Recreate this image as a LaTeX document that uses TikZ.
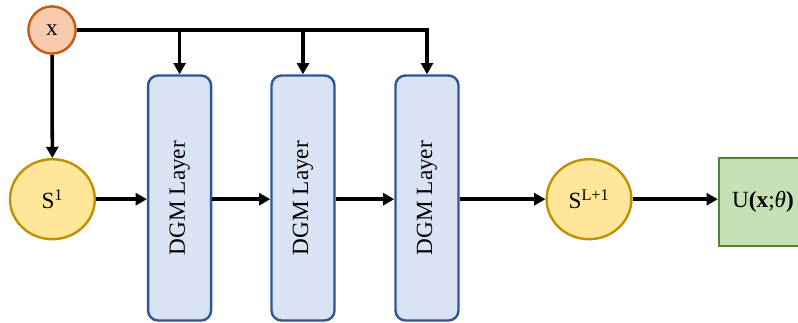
\documentclass[tikz,border=0pt]{standalone}
\usepackage{fontspec}
\setmainfont{Liberation Serif}
\usetikzlibrary{arrows.meta,shapes.geometric}

\definecolor{inpfill}{HTML}{F8CBAD}
\definecolor{inpdraw}{HTML}{C55A11}
\definecolor{stfill}{HTML}{FFE699}
\definecolor{stdraw}{HTML}{BF9000}
\definecolor{dgmfill}{HTML}{DAE3F3}
\definecolor{dgmdraw}{HTML}{2F5597}
\definecolor{outfill}{HTML}{C5E0B4}
\definecolor{outdraw}{HTML}{548235}

\begin{document}
\begin{tikzpicture}[>={Triangle[length=8pt,width=8.5pt]},
    font=\fontsize{16.5pt}{20pt}\selectfont,
    inp/.style={circle,draw=inpdraw,fill=inpfill,line width=1.7pt,minimum size=1.18cm,inner sep=0pt},
    state/.style={ellipse,draw=stdraw,fill=stfill,line width=1.7pt,minimum width=2.12cm,minimum height=2cm,inner sep=0pt},
    dgm/.style={rectangle,rounded corners=0.25cm,draw=dgmdraw,fill=dgmfill,line width=1.7pt,minimum width=1.575cm,minimum height=6.125cm,inner sep=0pt},
    outbox/.style={rectangle,draw=outdraw,fill=outfill,line width=1.7pt,minimum width=2.2cm,minimum height=2.2cm,inner sep=0pt},
    conn/.style={->,line width=2.5pt}]
                \useasboundingbox (0,0) rectangle (19.95,8.05);

                % input, states and layers
                \node[inp] (x) at (1.3,7.3) {x};
                \node[state] (s1) at (1.31,3.07) {S\textsuperscript{1}};
                \node[dgm] (dgm1) at (4.49,3.1) {\rotatebox{90}{DGM Layer}};
                \node[dgm] (dgm2) at (7.575,3.1) {\rotatebox{90}{DGM Layer}};
                \node[dgm] (dgm3) at (10.675,3.1) {\rotatebox{90}{DGM Layer}};
                \node[state] (sl) at (14.725,3.07) {S\textsuperscript{L+1}};
                \node[outbox] (u) at (19.075,3.0) {U\textbf{(x};\textit{θ}\textbf{)}};

                % x feeds every layer
                \draw[conn] (x) -- (s1);
                \draw[conn] (x) -| (dgm3.north);
                \draw[conn] (dgm1.north |- x) -- (dgm1.north);
                \draw[conn] (dgm2.north |- x) -- (dgm2.north);

                % forward pass
                \draw[conn] (s1) -- (s1 -| dgm1.west);
                \draw[conn] (s1 -| dgm1.east) -- (s1 -| dgm2.west);
                \draw[conn] (s1 -| dgm2.east) -- (s1 -| dgm3.west);
                \draw[conn] (s1 -| dgm3.east) -- (sl);
                \draw[conn] (sl) -- (sl -| u.west);
\end{tikzpicture}
\end{document}
